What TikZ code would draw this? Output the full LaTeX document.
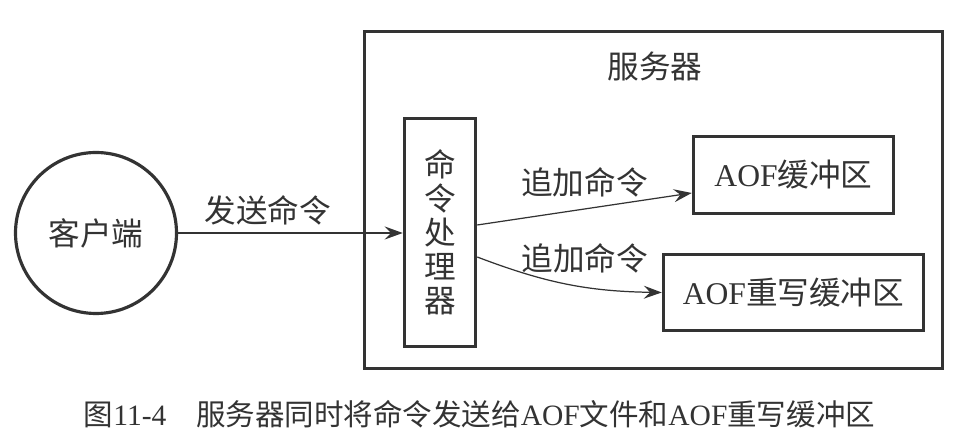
\documentclass[tikz,border=0pt]{standalone}
\usepackage{fontspec}
\setmainfont{Liberation Serif}
\newfontfamily\cjk{Noto Sans CJK SC}
\usepackage{xcolor}
\usetikzlibrary{arrows.meta,positioning}
\definecolor{ink}{gray}{0.2}

\begin{document}
\begin{tikzpicture}[
  every node/.style={text=ink},
  box/.style={draw=ink, line width=2pt, align=center, inner sep=0pt,
              font=\fontsize{18}{19}\selectfont},
  client/.style={draw=ink, circle, line width=1.8pt, minimum size=3.22cm,
                 font=\cjk\fontsize{18}{19}\selectfont},
  arr/.style={-{Stealth[length=3.6mm,width=2.6mm,inset=1.3mm]}, line width=0.7pt, draw=ink},
  lbl/.style={font=\cjk\fontsize{18}{19}\selectfont, inner sep=0pt}
]
\useasboundingbox (0,0) rectangle (19.3,8.72);

\node[box, minimum width=11.56cm, minimum height=6.74cm] (server) at (13.07,4.72) {};
\node[lbl] (title) at (13.1,7.4) {\cjk 服务器};
\node[client] (client) at (1.92,4.06) {客户端};
\node[box, minimum width=1.42cm, minimum height=4.56cm,
      font=\cjk\fontsize{18}{19}\selectfont] (proc) at (8.8,4.07)
      {命\\[0.3pt]令\\[0.3pt]处\\[0.3pt]理\\[0.3pt]器};
\node[box, minimum width=4.0cm, minimum height=1.54cm] (buf) at (15.87,5.22) {AOF{\cjk 缓冲区}};
\node[box, minimum width=5.2cm, minimum height=1.52cm] (rewrite) at (15.87,2.87) {AOF{\cjk 重写缓冲区}};

\draw[arr] (client.east) -- node[lbl, pos=0.4, above=1.4mm] {发送命令} (client.east -| proc.west);
\draw[arr] ([yshift=1.5mm]proc.east) -- node[lbl, above=2.2mm] {追加命令} ([yshift=-3.6mm]buf.west);
\draw[arr] ([yshift=-4.9mm]proc.east) to[bend right=10] node[lbl, pos=0.6, above=2.6mm] {追加命令} (rewrite.west);

\node[font=\fontsize{16.8}{18}\selectfont] (caption) at (9.59,0.44)
  {{\cjk 图}11-4\quad{\cjk 服务器同时将命令发送给}AOF{\cjk 文件和}AOF{\cjk 重写缓冲区}};
\end{tikzpicture}
\end{document}
